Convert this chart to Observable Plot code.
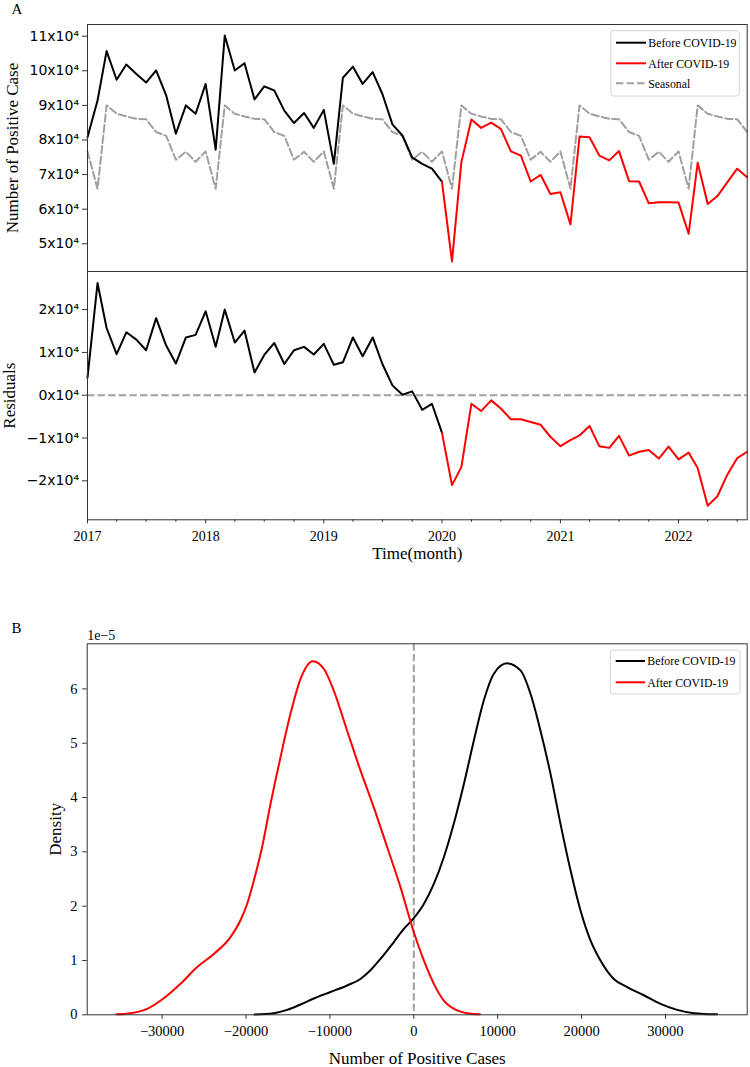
<!DOCTYPE html>
<html><head><meta charset="utf-8">
<script src="https://cdn.jsdelivr.net/npm/d3@7"></script>
<script src="https://cdn.jsdelivr.net/npm/@observablehq/plot@0.6"></script>
<style>
html,body{margin:0;padding:0;background:#fff;}
#chart{position:relative;width:750px;height:1067px;overflow:hidden;background:#fff;}
#chart svg{position:absolute;left:0;}
</style></head><body><div id="chart"></div>
<script>
// ---------- data ----------
const months = d3.utcMonth.range(new Date(Date.UTC(2017, 0, 1)), new Date(Date.UTC(2022, 8, 1))); // 2017-01 .. 2022-08
const splitIndex = 36; // 2020-01 : first month of "After COVID-19"

const observedBefore = [80800, 91400, 105700, 97400, 101800, 99100, 96600, 100100, 92900, 81800,
  90000, 87600, 96200, 77200, 110200, 100100, 102200, 91700, 95500, 94300,
  88500, 84900, 87800, 83500, 88700, 73100, 98000, 101200, 96200, 99600,
  93300, 84500, 81300, 75000, 73100, 71700, 68000];
const observedAfter = [68000, 44900, 73600, 85900, 83500, 85000, 83200, 76700, 75500, 68000,
  69900, 64400, 64900, 55600, 81000, 80800, 75500, 74100, 76800, 68100,
  68000, 61700, 62000, 62000, 61900, 52900, 73400, 61500, 63800, 67800,
  71700, 69200];
const seasonal = [
  76700, 65900, 90000, 87600, 86800, 86100, 86000, 82300, 81200, 74300, 76600, 73700,
  76700, 65900, 90000, 87600, 86800, 86100, 86000, 82300, 81200, 74300, 76600, 73700,
  76700, 65900, 90000, 87600, 86800, 86100, 86000, 82300, 81200, 74300, 76600, 73700,
  76700, 65900, 90000, 87600, 86800, 86100, 86000, 82300, 81200, 74300, 76600, 73700,
  76700, 65900, 90000, 87600, 86800, 86100, 86000, 82300, 81200, 74300, 76600, 73700,
  76700, 65900, 90000, 87600, 86800, 86100, 86000, 82300];
const residualBefore = [4100, 26200, 15700, 9600, 14700, 13000, 10500, 18000, 11600, 7400,
  13500, 14100, 19600, 11300, 20000, 12300, 15100, 5300, 9400, 12200,
  7300, 10500, 11300, 9500, 12000, 7100, 7700, 13500, 9100, 13500,
  7300, 2300, 100, 900, -3400, -2000, -8750];
const residualAfter = [-8750, -21000, -16800, -2000, -3700, -1200, -3100, -5600, -5600, -6250,
  -6900, -9700, -11900, -10500, -9400, -7200, -11900, -12300, -9500, -14100,
  -13200, -12800, -14800, -12000, -15000, -13400, -17000, -25800, -23600, -18500,
  -14700, -13200];

// density curves (y in units of 1e-5)
const densityAfterX = [-35440, -33770, -31780, -29920, -27810, -25820, -23840, -21850, -20660, -19870,
  -19070, -18080, -17080, -15890, -14700, -13510, -12040, -10730, -9540, -7950,
  -6360, -4770, -3180, -1590, 0, 1196, 2390, 3580, 5170, 6360, 7880];
const densityAfterY = [0.01, 0.03, 0.11, 0.29, 0.57, 0.88, 1.12, 1.43, 1.74, 2.04,
  2.47, 3.09, 3.88, 4.74, 5.54, 6.18, 6.51, 6.37, 5.97, 5.23,
  4.50, 3.82, 3.09, 2.35, 1.52, 1.00, 0.57, 0.26, 0.08, 0.03, 0.01];
const densityBeforeX = [-18990, -16690, -15100, -13510, -11920, -9930, -7950, -6360, -5170, -3970,
  -2380, -1190, 0, 1196, 2390, 3580, 4770, 5970, 7160, 8350,
  9540, 11130, 12720, 13910, 15100, 16290, 17480, 18680, 19870, 21060,
  22250, 23840, 25430, 27420, 29410, 31390, 33380, 36160];
const densityBeforeY = [0.006, 0.03, 0.09, 0.19, 0.30, 0.42, 0.54, 0.66, 0.82, 1.03,
  1.34, 1.58, 1.78, 2.04, 2.41, 2.90, 3.52, 4.25, 5.05, 5.79,
  6.28, 6.47, 6.34, 5.91, 5.23, 4.44, 3.52, 2.66, 1.92, 1.37,
  1.00, 0.66, 0.51, 0.36, 0.20, 0.09, 0.03, 0.01];

const topTicks = [50000, 60000, 70000, 80000, 90000, 100000, 110000];
const residualTicks = [-20000, -10000, 0, 10000, 20000];
const densityXTicks = [-30000, -20000, -10000, 0, 10000, 20000, 30000];
const densityYTicks = [0, 1, 2, 3, 4, 5, 6];
const seriesLabels = ["Before COVID-19", "After COVID-19", "Seasonal"];

// ---------- tables ----------
const rowsOf = (vals, offset) => vals.map((v, i) => ({date: months[i + offset], value: v}));
const obsBeforeRows = rowsOf(observedBefore, 0);
const obsAfterRows = rowsOf(observedAfter, splitIndex);
const seasonalRows = rowsOf(seasonal, 0);
const resBeforeRows = rowsOf(residualBefore, 0);
const resAfterRows = rowsOf(residualAfter, splitIndex);
const densBeforeRows = densityBeforeX.map((x, i) => ({x, y: densityBeforeY[i]}));
const densAfterRows = densityAfterX.map((x, i) => ({x, y: densityAfterY[i]}));
const yearTicks = months.filter(d => d.getUTCMonth() === 0);
const quarterTicks = months.filter(d => d.getUTCMonth() % 3 === 0 && d.getUTCMonth() !== 0);

// ---------- style ----------
const serif = "Liberation Serif";
const sans = "DejaVu Sans";
const W = 750, L = 87, R = 3.3;
const frameColor = "#333";
const gray = "#a0a0a0";
const dash = "7.4,3.2";
const sup = v => { const k = Math.round(v / 1e4); return (k < 0 ? "\u2212" : "") + Math.abs(k) + "x10\u2074"; };
const minus = d => d < 0 ? "\u2212" + Math.abs(d) : String(d);
const xDomain = [months[0], months[months.length - 1]];
const label = (t, opts) => Plot.text([t], {text: d => d, fontFamily: serif, fill: "black", ...opts});

const chart = document.getElementById("chart");

// ---------- panel A (top) ----------
const p1 = Plot.plot({
  width: W, height: 271, marginTop: 24, marginBottom: 0, marginLeft: L, marginRight: R,
  style: {fontFamily: sans, background: "transparent", overflow: "visible"},
  x: {type: "utc", domain: xDomain, axis: null},
  y: {domain: [41990, 113380], axis: null},
  marks: [
    Plot.axisY({ticks: topTicks, tickFormat: sup, tickSize: 5, tickPadding: 3.5, fontSize: 14, fontFamily: sans, label: null, stroke: frameColor}),
    Plot.line(seasonalRows, {x: "date", y: "value", stroke: gray, strokeWidth: 2, strokeDasharray: dash}),
    Plot.line(obsBeforeRows, {x: "date", y: "value", stroke: "black", strokeWidth: 2}),
    Plot.line(obsAfterRows, {x: "date", y: "value", stroke: "red", strokeWidth: 2}),
    Plot.frame({stroke: frameColor}),
    label("Number of Positive Case", {frameAnchor: "left", textAnchor: "middle", lineAnchor: "middle", rotate: -90, dx: 12.5 - L, fontSize: 17}),
    label("A", {frameAnchor: "top-left", textAnchor: "start", lineAnchor: "bottom", dx: 11 - L, dy: 13 - 24, fontSize: 15})
  ]
});
p1.style.top = "0px";
chart.appendChild(p1);

// ---------- residual panel ----------
const p2 = Plot.plot({
  width: W, height: 300, marginTop: 0, marginBottom: 300 - 248.3, marginLeft: L, marginRight: R,
  style: {fontFamily: sans, background: "transparent", overflow: "visible"},
  x: {type: "utc", domain: xDomain, axis: null},
  y: {domain: [-29100, 28900], axis: null},
  marks: [
    Plot.axisY({ticks: residualTicks, tickFormat: sup, tickSize: 5, tickPadding: 3.5, fontSize: 14, fontFamily: sans, label: null, stroke: frameColor}),
    Plot.axisX({ticks: yearTicks, tickFormat: d3.utcFormat("%Y"), tickSize: 4, tickPadding: 7.5, fontSize: 14, fontFamily: serif, label: null, stroke: frameColor}),
    Plot.axisX({ticks: quarterTicks, tickFormat: () => "", tickSize: 2.5, label: null, stroke: frameColor}),
    Plot.ruleY([0], {stroke: gray, strokeWidth: 2, strokeDasharray: dash}),
    Plot.line(resBeforeRows, {x: "date", y: "value", stroke: "black", strokeWidth: 2}),
    Plot.line(resAfterRows, {x: "date", y: "value", stroke: "red", strokeWidth: 2}),
    Plot.frame({stroke: frameColor}),
    label("Residuals", {frameAnchor: "left", textAnchor: "middle", lineAnchor: "middle", rotate: -90, dx: 9.5 - L, fontSize: 17}),
    label("Time(month)", {frameAnchor: "bottom", textAnchor: "middle", lineAnchor: "bottom", dy: 558 - 271 - 248.3, fontSize: 17})
  ]
});
p2.style.top = "271px";
chart.appendChild(p2);

// ---------- panel B (density) ----------
const LB = 86.7;
const p3 = Plot.plot({
  width: W, height: 467, marginTop: 43.3, marginBottom: 52.7, marginLeft: LB, marginRight: R,
  style: {fontFamily: serif, background: "transparent", overflow: "visible"},
  x: {domain: [-38930, 39740], axis: null},
  y: {domain: [0, 6.83], axis: null},
  marks: [
    Plot.axisX({ticks: densityXTicks, tickFormat: minus, tickSize: 4.5, tickPadding: 6.3, fontSize: 14.5, fontFamily: serif, label: null, stroke: frameColor}),
    Plot.axisY({ticks: densityYTicks, tickFormat: d => String(d), tickSize: 4.5, tickPadding: 5.2, fontSize: 14.5, fontFamily: serif, label: null, stroke: frameColor}),
    Plot.ruleX([0], {stroke: gray, strokeWidth: 2, strokeDasharray: dash}),
    Plot.line(densBeforeRows, {x: "x", y: "y", stroke: "black", strokeWidth: 2, curve: "monotone-x"}),
    Plot.line(densAfterRows, {x: "x", y: "y", stroke: "red", strokeWidth: 2, curve: "monotone-x"}),
    Plot.frame({stroke: frameColor}),
    label("Density", {frameAnchor: "left", textAnchor: "middle", lineAnchor: "middle", rotate: -90, dx: 55 - LB, fontSize: 17}),
    label("Number of Positive Cases", {frameAnchor: "bottom", textAnchor: "middle", lineAnchor: "bottom", dy: 1063 - 1014.3, fontSize: 17}),
    label("1e\u22125", {frameAnchor: "top-left", textAnchor: "start", lineAnchor: "bottom", dx: 0, dy: 639 - 643.3, fontSize: 14}),
    label("B", {frameAnchor: "top-left", textAnchor: "start", lineAnchor: "bottom", dx: 11 - LB, dy: 632 - 643.3, fontSize: 15})
  ]
});
p3.style.top = "600px";
chart.appendChild(p3);

// ---------- legends ----------
function addLegend(svg, box, rows, lineX0, lineX1, textX) {
  const g = d3.select(svg).append("g");
  g.append("rect").attr("x", box[0]).attr("y", box[1]).attr("width", box[2]).attr("height", box[3])
    .attr("rx", 3).attr("fill", "white").attr("fill-opacity", 0.85).attr("stroke", "#d4d4d4").attr("stroke-width", 1);
  rows.forEach(r => {
    g.append("line").attr("x1", lineX0).attr("x2", lineX1).attr("y1", r.y).attr("y2", r.y)
      .attr("stroke", r.stroke).attr("stroke-width", 2).attr("stroke-dasharray", r.dash || null);
    g.append("text").attr("x", textX).attr("y", r.y + 4.3).attr("font-family", serif).attr("font-size", 11.8)
      .attr("text-anchor", "start").attr("fill", "black").text(r.label);
  });
}
addLegend(p1, [610.7, 30.7, 128.6, 65.3], [
  {y: 42.7, stroke: "black", label: seriesLabels[0]},
  {y: 63.3, stroke: "red", label: seriesLabels[1]},
  {y: 83.3, stroke: gray, dash: dash, label: seriesLabels[2]}
], 616, 646, 648.3);
addLegend(p3, [610.3, 50, 129.7, 44], [
  {y: 61, stroke: "black", label: seriesLabels[0]},
  {y: 82.3, stroke: "red", label: seriesLabels[1]}
], 615.7, 645, 647.3);
</script></body></html>
